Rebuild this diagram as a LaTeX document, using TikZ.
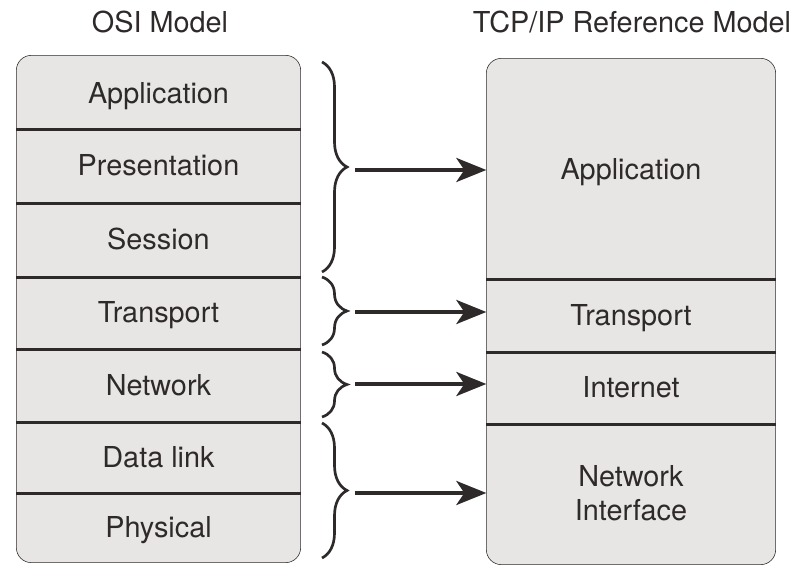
\documentclass[tikz,border=0pt]{standalone}
\usepackage{fontspec}
\setmainfont{TeX Gyre Heros}
\usetikzlibrary{arrows.meta,decorations.pathreplacing,backgrounds}
\definecolor{layerfill}{HTML}{E8E6E4}
\definecolor{ink}{HTML}{2D2A29}

\begin{document}
\begin{tikzpicture}[x=0.025cm, y=0.025cm, line width=2.3pt,
	layer/.style={inner sep=0pt, align=center, text=ink, text depth=0pt,
		font=\fontsize{20.5}{24.5}\selectfont},
	osilayer/.style={layer, minimum width=7.025cm},
	tcplayer/.style={layer, minimum width=7.15cm},
	title/.style={text=ink, font=\fontsize{20.5}{24.5}\selectfont},
	stack/.style={draw=ink, fill=layerfill, rounded corners=0.375cm},
	brace/.style={draw=ink, line width=1.9pt, decorate,
		decoration={brace, amplitude=0.625cm, aspect=0.5}},
	link/.style={draw=ink, line width=2.8pt,
		-{Stealth[length=0.75cm, width=0.6cm, inset=0.2cm]}}]
	\useasboundingbox (0,0) rectangle (800,565);
	% titles
	\node[title] (osititle) at (160,543) {OSI Model};
	\node[title] (tcptitle) at (632,543) {TCP/IP Reference Model};
	% OSI layers
	\node[osilayer, minimum height=1.775cm] (osiapp) at (158.5,472.5) {Application};
	\node[osilayer, minimum height=1.85cm] (osipres) at (158.5,400) {Presentation};
	\node[osilayer, minimum height=1.85cm] (osisess) at (158.5,326) {Session};
	\node[osilayer, minimum height=1.8cm] (ositrans) at (158.5,253) {Transport};
	\node[osilayer, minimum height=1.825cm] (osinet) at (158.5,180.5) {Network};
	\node[osilayer, minimum height=1.775cm] (osidata) at (158.5,108.5) {Data link};
	\node[osilayer, minimum height=1.725cm] (osiphys) at (158.5,38.5) {Physical};
	% TCP/IP layers
	\node[tcplayer, minimum height=5.45cm] (tcpapp) at (631,396) {Application};
	\node[tcplayer, minimum height=1.825cm] (tcptrans) at (631,250.5) {Transport};
	\node[tcplayer, minimum height=1.8cm] (tcpinet) at (631,178) {Internet};
	\node[tcplayer, minimum height=3.5cm] (tcpnif) at (631,72) {Network\\Interface};
	% stack outlines
	\begin{scope}[on background layer]
		\draw[stack] (osiapp.north west) rectangle (osiphys.south east);
		\draw[stack] (tcpapp.north west) rectangle (tcpnif.south east);
	\end{scope}
	% separators
	\draw[ink] (osiapp.south west) -- (osiapp.south east);
	\draw[ink] (osipres.south west) -- (osipres.south east);
	\draw[ink] (osisess.south west) -- (osisess.south east);
	\draw[ink] (ositrans.south west) -- (ositrans.south east);
	\draw[ink] (osinet.south west) -- (osinet.south east);
	\draw[ink] (osidata.south west) -- (osidata.south east);
	\draw[ink] (tcpapp.south west) -- (tcpapp.south east);
	\draw[ink] (tcptrans.south west) -- (tcptrans.south east);
	\draw[ink] (tcpinet.south west) -- (tcpinet.south east);
	% braces
	\draw[brace] (322,503) -- (322,293);
	\draw[brace] (322,288) -- (322,220);
	\draw[brace] (322,213) -- (322,148);
	\draw[brace] (322,142) -- (322,7);
	% mapping arrows
	\coordinate (tip1) at (355,395);
	\coordinate (tip2) at (355,253);
	\coordinate (tip3) at (355,181);
	\coordinate (tip4) at (355,72);
	\draw[link] (tip1) -- (tip1 -| tcpapp.west);
	\draw[link] (tip2) -- (tip2 -| tcptrans.west);
	\draw[link] (tip3) -- (tip3 -| tcpinet.west);
	\draw[link] (tip4) -- (tip4 -| tcpnif.west);
\end{tikzpicture}
\end{document}
